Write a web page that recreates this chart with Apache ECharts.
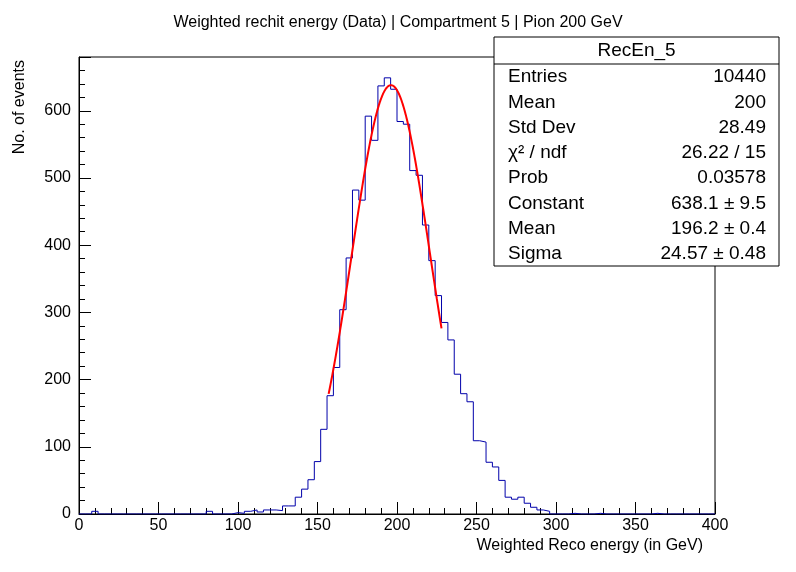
<!DOCTYPE html>
<html>
<head>
    <title>RecEn_5</title>
    <script src="https://cdn.jsdelivr.net/npm/echarts@6/dist/echarts.min.js"></script>
    <style>body{margin:0;background:#fff;}</style>
</head>
<body>
<div id="chart" style="width:796px;height:572px;"></div>
<script type="text/javascript">
    // histogram: 100 bins of 4 GeV from 0 to 400
    var binWidth = 4;
    var counts = [
        0, 0, 4, 0, 0, 0, 0, 0, 0, 0,
        0, 0, 0, 0, 0, 0, 0, 0, 0, 0,
        4, 0, 0, 0, 2, 1, 4, 6, 3, 6,
        6, 5, 12, 12, 25, 37, 51, 78, 126, 176,
        218, 304, 381, 482, 467, 592, 556, 637, 649, 632,
        584, 580, 511, 504, 430, 377, 325, 285, 259, 208,
        179, 167, 109, 107, 77, 70, 50, 25, 22, 25,
        16, 10, 6, 4, 0, 0, 0, 1, 0, 0,
        0, 1, 0, 0, 0, 0, 0, 0, 0, 0,
        1, 0, 0, 0, 0, 0, 0, 0, 0, 0
    ];
    // gaussian fit parameters (from stats box)
    var fitConst = 638.1, fitMean = 196.2, fitSigma = 24.57;
    var fitRange = [157, 228];
    var statLabels = ['Entries', 'Mean', 'Std Dev', 'χ² / ndf', 'Prob', 'Constant', 'Mean', 'Sigma'];
    var statValues = ['10440', '200', '28.49', '26.22 / 15', '0.03578', '638.1 ± 9.5', '196.2 ± 0.4', '24.57 ± 0.48'];

    var histPts = [];
    for (var i = 0; i < counts.length; i++) {
        histPts.push([i * binWidth, counts[i]]);
    }
    histPts.push([counts.length * binWidth, 0]);

    var fitPts = [];
    for (var x = fitRange[0]; x <= fitRange[1]; x += 0.5) {
        var z = (x - fitMean) / fitSigma;
        fitPts.push([x, fitConst * Math.exp(-0.5 * z * z)]);
    }

    var font = 'Liberation Sans';
    var gfx = [];
    var boxL = 494, boxR = 779, boxT = 37, rowH = 25.3;
    gfx.push({type: 'rect', shape: {x: boxL, y: boxT, width: boxR - boxL, height: 229},
        style: {fill: '#fff', stroke: '#000', lineWidth: 1}, z: 100});
    gfx.push({type: 'line', shape: {x1: boxL, y1: boxT + 27, x2: boxR, y2: boxT + 27},
        style: {stroke: '#000', lineWidth: 1}, z: 101});
    gfx.push({type: 'text', x: (boxL + boxR) / 2, y: boxT + 14, z: 101,
        style: {text: 'RecEn_5', font: '19px ' + font, fill: '#000', align: 'center', verticalAlign: 'middle'}});
    for (var k = 0; k < statLabels.length; k++) {
        var yy = boxT + 40 + k * rowH;
        gfx.push({type: 'text', x: boxL + 14, y: yy, z: 101,
            style: {text: statLabels[k], font: '19px ' + font, fill: '#000', align: 'left', verticalAlign: 'middle'}});
        gfx.push({type: 'text', x: boxR - 13, y: yy, z: 101,
            style: {text: statValues[k], font: '19px ' + font, fill: '#000', align: 'right', verticalAlign: 'middle'}});
    }
    // y axis title, top-aligned like ROOT
    gfx.push({type: 'text', x: 20, y: 60, rotation: Math.PI / 2, z: 101,
        style: {text: 'No. of events', font: '16px ' + font, fill: '#000', align: 'right', verticalAlign: 'middle'}});

    var chart = echarts.init(document.getElementById('chart'));
    chart.setOption({
        animation: false,
        backgroundColor: '#fff',
        title: {
            text: 'Weighted rechit energy (Data) | Compartment 5 | Pion 200 GeV',
            left: 'center', top: 10,
            textStyle: {fontFamily: font, fontSize: 16, fontWeight: 'normal', color: '#000'}
        },
        grid: {left: 79, right: 81, top: 57, bottom: 58, show: true, borderColor: '#000', borderWidth: 1},
        xAxis: {
            type: 'value', min: 0, max: 400, interval: 50,
            axisLine: {onZero: false, lineStyle: {color: '#000'}},
            axisTick: {inside: true, length: 12, lineStyle: {color: '#000'}},
            minorTick: {show: true, splitNumber: 5, length: 6, lineStyle: {color: '#000'}},
            splitLine: {show: false},
            axisLabel: {fontFamily: font, fontSize: 16, color: '#000', margin: 4},
            name: 'Weighted Reco energy (in GeV)', nameLocation: 'end', nameGap: 0,
            nameTextStyle: {fontFamily: font, fontSize: 16, color: '#000', align: 'right', verticalAlign: 'top', padding: [24, 12, 0, 0]}
        },
        yAxis: {
            type: 'value', min: 0, max: 680, interval: 100,
            axisLine: {lineStyle: {color: '#000'}},
            axisTick: {inside: true, length: 12, lineStyle: {color: '#000'}},
            minorTick: {show: true, splitNumber: 5, length: 6, lineStyle: {color: '#000'}},
            splitLine: {show: false},
            axisLabel: {fontFamily: font, fontSize: 16, color: '#000', margin: 8, showMaxLabel: false}
        },
        series: [{
            type: 'line', data: histPts, step: 'end', symbol: 'none',
            lineStyle: {color: '#0000aa', width: 1}
        }, {
            type: 'line', data: fitPts, symbol: 'none', smooth: true,
            lineStyle: {color: '#ff0000', width: 2}, z: 5
        }],
        graphic: gfx
    });
</script>
</body>
</html>
